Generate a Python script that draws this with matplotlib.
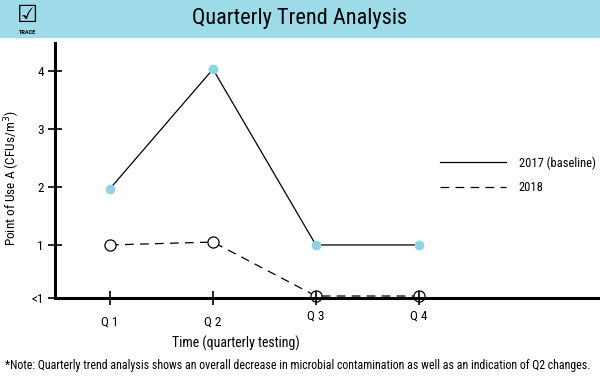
import numpy as np
import matplotlib.pyplot as plt
from matplotlib.patches import Rectangle
from matplotlib.transforms import ScaledTranslation

plt.rcParams['font.family'] = ['Roboto Condensed', 'DejaVu Sans']

quarters = ["Q 1", "Q 2", "Q 3", "Q 4"]
y_2017 = [1.97, 4.03, 1.0, 1.0]
y_2018 = [1.0, 1.05, 0.12, 0.12]
ytick_vals = [0.086, 1, 2, 3, 4]
ytick_labels = ["<1", "1", "2", "3", "4"]

x = np.arange(1, len(quarters) + 1)

fig = plt.figure(figsize=(6, 3.88), dpi=100)

# title banner
fig.patches.append(Rectangle((0, 0.905), 1, 0.095, transform=fig.transFigure,
                             color="#9ddbe8", zorder=0))
fig.text(0.5, 0.952, "Quarterly Trend Analysis", ha="center", va="center", size=16)
fig.text(0.045, 0.962, "\u2611", ha="center", va="center", size=17, family="DejaVu Sans")
fig.text(0.045, 0.917, "TRACE", ha="center", va="center", size=4.5, weight="bold")

ax = fig.add_axes([0.0917, 0.232, 0.9083, 0.657])
ax.plot(x, y_2017, color="black", lw=0.9, label="2017 (baseline)", zorder=2)
ax.plot(x, y_2017, "o", color="#8fd4e4", ms=7, mec="none", zorder=2.2)
ax.plot(x, y_2018, color="black", lw=0.9, ls=(0, (7, 5)), label="2018", zorder=1.8)
ax.plot(x, y_2018, "o", mfc="white", mec="black", mew=0.9, ms=8, zorder=2.2, clip_on=False)
ax.xaxis.set_zorder(3)

ax.set_xlim(0.466, 5.76)
ax.set_ylim(0.086, 4.48)

for s in ["top", "right"]:
    ax.spines[s].set_visible(False)
for s in ["left", "bottom"]:
    ax.spines[s].set_linewidth(2.2)
    ax.spines[s].set_zorder(3)

ax.set_xticks(x)
ax.set_xticklabels(quarters, size=9.5)
ax.set_yticks(ytick_vals)
ax.set_yticklabels(ytick_labels, size=9.5)
ax.tick_params(axis="both", direction="inout", length=10, width=1.2)
ax.tick_params(axis="x", pad=8)
ax.tick_params(axis="y", pad=3)
for lab in ax.get_xticklabels()[2:]:
    lab.set_transform(lab.get_transform() + ScaledTranslation(0, 5 / 72, fig.dpi_scale_trans))

ax.set_xlabel("Time (quarterly testing)", size=10)
ax.xaxis.set_label_coords(0.332, -0.149)
ax.set_ylabel("Point of Use A (CFUs/m$^3$)", size=9.5)
ax.yaxis.set_label_coords(-0.06, 0.47)

ax.legend(frameon=False, loc="upper left", bbox_to_anchor=(0.686, 0.60),
          handlelength=5.3, fontsize=9, labelspacing=0.9, handletextpad=1.0)

fig.text(0.008, 0.057, "*Note: Quarterly trend analysis shows an overall decrease in microbial "
         "contamination as well as an indication of Q2 changes.", size=8.6, va="center")

fig.savefig("out.png", dpi=100)
